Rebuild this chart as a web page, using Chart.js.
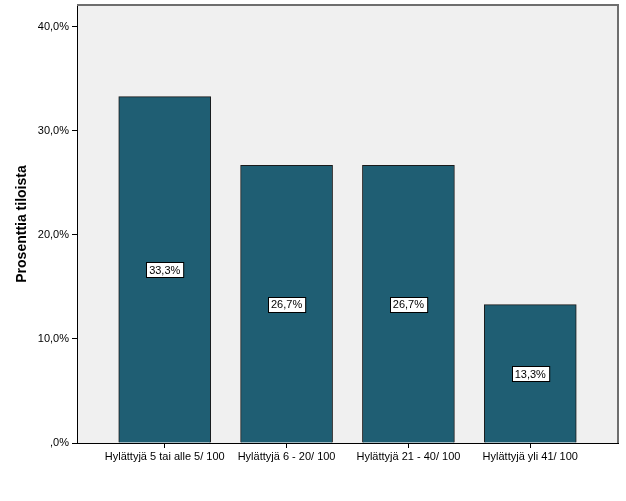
<!DOCTYPE html>
<html><head><meta charset="utf-8">
<script src="https://cdn.jsdelivr.net/npm/chart.js@4"></script>
<style>html,body{margin:0;padding:0;background:#fff}#w{width:626px;height:501px}</style>
</head><body><div id="w"><canvas id="c"></canvas></div>
<script>
const categories = ['Hylättyjä 5 tai alle 5/ 100', 'Hylättyjä 6 - 20/ 100', 'Hylättyjä 21 - 40/ 100', 'Hylättyjä yli 41/ 100'];
const values = [33.3, 26.7, 26.7, 13.3];
const yTicks = [0, 10, 20, 30, 40];
const yTickLabels = [',0%', '10,0%', '20,0%', '30,0%', '40,0%'];
const valueLabels = ['33,3%', '26,7%', '26,7%', '13,3%'];
const yTitle = 'Prosenttia tiloista';

const FONT = '"Liberation Sans", Arial, sans-serif';

const frame = {
  id: 'frame',
  beforeDraw(chart) {
    const {ctx, chartArea: a} = chart;
    ctx.save();
    ctx.fillStyle = '#f0f0f0';
    ctx.fillRect(a.left, a.top, a.right - a.left, a.bottom - a.top);
    ctx.restore();
  },
  afterDraw(chart) {
    const {ctx, chartArea: a} = chart;
    ctx.save();
    ctx.strokeStyle = '#6e6e6e';
    ctx.lineWidth = 2;
    ctx.beginPath();
    ctx.moveTo(a.left, a.top);
    ctx.lineTo(a.right, a.top);
    ctx.lineTo(a.right, a.bottom);
    ctx.stroke();
    // value labels
    const meta = chart.getDatasetMeta(0);
    ctx.font = '11px ' + FONT;
    ctx.textAlign = 'center';
    ctx.textBaseline = 'middle';
    meta.data.forEach((bar, i) => {
      const yMid = chart.scales.y.getPixelForValue(values[i] / 2);
      const t = valueLabels[i];
      const w = ctx.measureText(t).width + 6;
      const h = 15;
      const x0 = Math.round(bar.x - w / 2) + 0.5, y0 = Math.round(yMid - h / 2) + 0.5;
      ctx.fillStyle = '#fff';
      ctx.fillRect(x0, y0, w, h);
      ctx.strokeStyle = '#000';
      ctx.lineWidth = 1;
      ctx.strokeRect(x0, y0, w, h);
      ctx.fillStyle = '#000';
      ctx.fillText(t, bar.x, yMid + 1);
    });
    ctx.restore();
  }
};

new Chart(document.getElementById('c'), {
  type: 'bar',
  data: {
    datasets: [{
      data: values.map((v, i) => ({x: i + 1, y: v})),
      backgroundColor: '#1f5e73',
      borderColor: '#1a1a1a',
      borderWidth: 1,
      borderSkipped: 'bottom',
      barThickness: 92,
      grouped: false
    }]
  },
  options: {
    responsive: true,
    maintainAspectRatio: false,
    animation: false,
    layout: {padding: {top: 5, right: 8, left: 14, bottom: 0}},
    plugins: {legend: {display: false}, tooltip: {enabled: false}},
    scales: {
      x: {
        type: 'linear',
        offset: false,
        min: 0.28, max: 4.72,
        afterBuildTicks(s) { s.ticks = categories.map((c, i) => ({value: i + 1})); },
        ticks: {
          callback: (v) => categories[Math.round(v) - 1],
          color: '#000', font: {family: FONT, size: 11}, padding: 2, maxRotation: 0, autoSkip: false
        },
        grid: {offset: false, drawOnChartArea: false, drawTicks: true, tickLength: 5, color: '#000'},
        border: {display: true, color: '#000', width: 1},
        afterFit(s) { s.height = 58; s.paddingLeft = 0; s.paddingRight = 0; }
      },
      y: {
        min: 0, max: 42.1,
        afterBuildTicks(s) { s.ticks = yTicks.map(v => ({value: v})); },
        ticks: {
          callback: (v) => yTickLabels[yTicks.indexOf(v)],
          color: '#000', font: {family: FONT, size: 11}, padding: 3
        },
        grid: {drawOnChartArea: false, drawTicks: true, tickLength: 5, color: '#000'},
        border: {display: true, color: '#000', width: 1},
        title: {display: true, text: yTitle, color: '#000', font: {family: FONT, size: 14, weight: 'bold'}, padding: {top: 0, bottom: 0}},
        afterFit(s) { s.width = 63; s.paddingTop = 0; s.paddingBottom = 0; }
      }
    }
  },
  plugins: [frame]
});
</script>
</body></html>
